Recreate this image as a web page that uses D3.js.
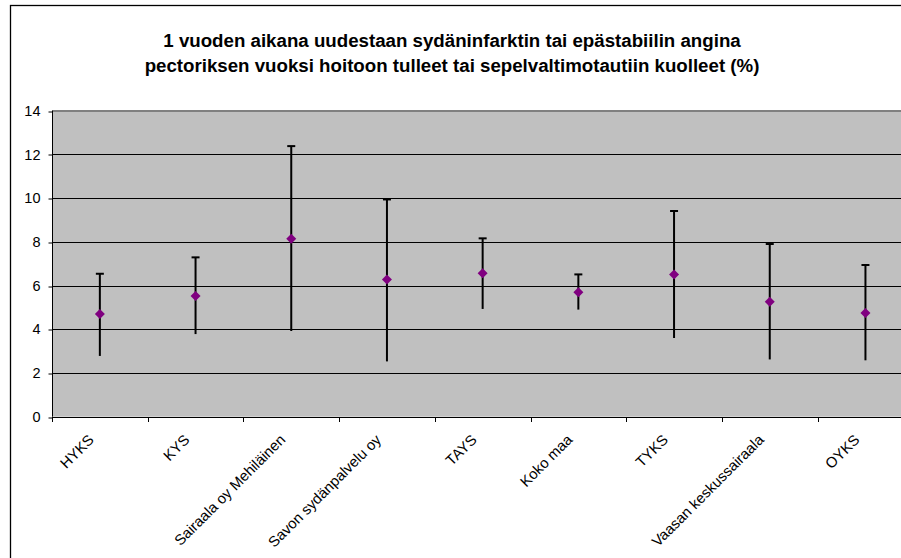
<!DOCTYPE html>
<html><head><meta charset="utf-8">
<script src="https://cdn.jsdelivr.net/npm/d3@7"></script>
<style>body{margin:0;background:#fff;}svg{display:block;}</style>
</head><body>
<svg id="c" width="901" height="558"></svg>
<script>
const categories = ["HYKS","KYS","Sairaala oy Mehiläinen","Savon sydänpalvelu oy","TAYS","Koko maa","TYKS","Vaasan keskussairaala","OYKS"];
const values = [4.70, 5.52, 8.14, 6.28, 6.56, 5.69, 6.51, 5.26, 4.74];
const upper  = [6.54, 7.29, 12.38, 9.94, 8.16, 6.51, 9.41, 7.90, 6.94];
const lower  = [2.78, 3.78, 3.92, 2.53, 4.93, 4.90, 3.60, 2.62, 2.58];
const yTicks = [0, 2, 4, 6, 8, 10, 12, 14];
const titleLines = ["1 vuoden aikana uudestaan sydäninfarktin tai epästabiilin angina",
                    "pectoriksen vuoksi hoitoon tulleet tai sepelvaltimotautiin kuolleet (%)"];

(function(){
const svg = d3.select("#c");
const font = "Arial, 'Liberation Sans', sans-serif";

svg.append("rect").attr("x",10.5).attr("y",5.5).attr("width",1000).attr("height",1000)
  .attr("fill","#fff").attr("stroke","#000").attr("stroke-width",1.3);

const pLeft = 52, pTop = 110.7, pBottom = 416.7, band = 95.7;
const x = d3.scaleBand().domain(categories).range([pLeft, pLeft + band*categories.length]).padding(0);
const y = d3.scaleLinear().domain([0,14]).range([pBottom, pTop]);

svg.append("rect").attr("x",pLeft).attr("y",y(14)).attr("width",x.range()[1]-pLeft).attr("height",y(0)-y(14))
  .attr("fill","#c0c0c0");

svg.append("g").selectAll("line").data(yTicks.filter(d=>d>0 && d<14)).join("line")
  .attr("x1",pLeft).attr("x2",x.range()[1])
  .attr("y1",d=>Math.round(y(d))+0.5).attr("y2",d=>Math.round(y(d))+0.5)
  .attr("stroke","#000").attr("stroke-width",1);
svg.append("line").attr("x1",pLeft).attr("x2",x.range()[1])
  .attr("y1",Math.round(y(14))).attr("y2",Math.round(y(14)))
  .attr("stroke","#808080").attr("stroke-width",2);

const yAxis = d3.axisLeft(y).tickValues(yTicks).tickSize(4).tickPadding(8).tickFormat(d3.format("d"));
const gy = svg.append("g").attr("transform",`translate(${pLeft+0.5},0)`).call(yAxis);
gy.select(".domain").attr("stroke","#000").attr("d",`M0,${y(14)}V${y(0)}`);
gy.selectAll(".tick line").attr("stroke","#000").attr("transform",d=>`translate(0,${Math.round(y(d))+0.5-y(d)})`);
gy.selectAll("text").attr("font-family",font).attr("font-size",14.5).attr("fill","#000");

const gx = svg.append("g");
gx.append("line").attr("x1",pLeft).attr("x2",x.range()[1]).attr("y1",Math.round(pBottom)+0.5).attr("y2",Math.round(pBottom)+0.5)
  .attr("stroke","#000");
gx.selectAll("line.tk").data(categories).join("line").attr("class","tk")
  .attr("x1",d=>Math.round(x(d))+0.5).attr("x2",d=>Math.round(x(d))+0.5)
  .attr("y1",Math.round(pBottom)).attr("y2",Math.round(pBottom)+5).attr("stroke","#000");
gx.selectAll("text").data(categories).join("text")
  .attr("transform",d=>`translate(${x(d)+x.bandwidth()/2-5},${pBottom+24}) rotate(-45)`)
  .attr("text-anchor","end").attr("font-family",font).attr("font-size",14.8).attr("fill","#000")
  .text(d=>d);

const g = svg.append("g");
categories.forEach((c,i)=>{
  const cx = x(c)+x.bandwidth()/2;
  g.append("line").attr("x1",cx).attr("x2",cx).attr("y1",y(lower[i])).attr("y2",y(upper[i]))
    .attr("stroke","#000").attr("stroke-width",2);
  g.append("line").attr("x1",cx-4).attr("x2",cx+4).attr("y1",y(upper[i])).attr("y2",y(upper[i]))
    .attr("stroke","#000").attr("stroke-width",2);
});
g.selectAll("path.m").data(values).join("path").attr("class","m")
  .attr("d",(v,i)=>{const cx=x(categories[i])+x.bandwidth()/2, cy=y(v), r=5;
    return `M${cx},${cy-r}L${cx+r},${cy}L${cx},${cy+r}L${cx-r},${cy}Z`;})
  .attr("fill","#800080");

svg.append("g").selectAll("text").data(titleLines).join("text")
  .attr("x",452).attr("y",(d,i)=>47+i*25).attr("text-anchor","middle")
  .attr("font-family",font).attr("font-weight","bold").attr("font-size",18.7).attr("fill","#000")
  .text(d=>d);
})();
</script>
</body></html>
